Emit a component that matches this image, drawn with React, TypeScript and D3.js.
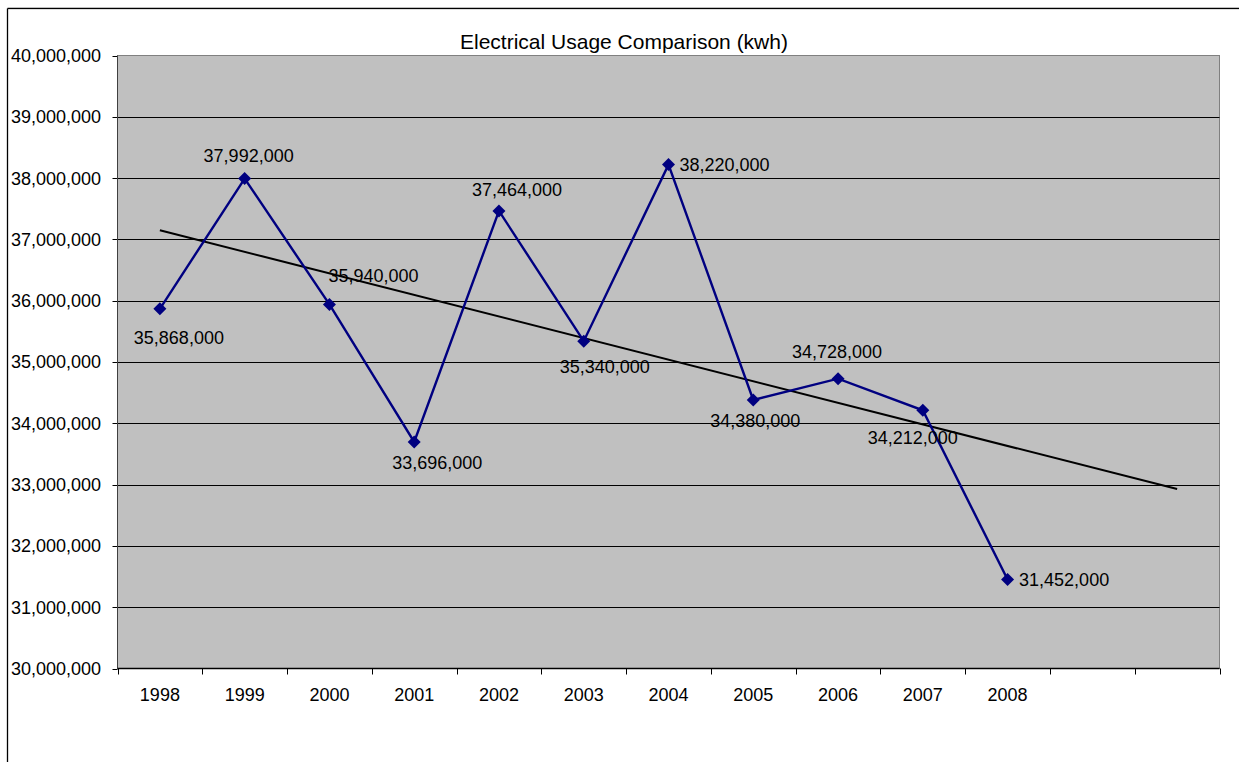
import React from 'react';
import * as d3 from 'd3';

const title = 'Electrical Usage Comparison (kwh)';
const years = ['1998', '1999', '2000', '2001', '2002', '2003', '2004', '2005', '2006', '2007', '2008', '', ''];
const usage = [35868000, 37992000, 35940000, 33696000, 37464000, 35340000, 38220000, 34380000, 34728000, 34212000, 31452000];
const yTicks = [30000000, 31000000, 32000000, 33000000, 34000000, 35000000, 36000000, 37000000, 38000000, 39000000, 40000000];

// label placement (offset from point, anchor) – layout, not data
const labelLayout: { dx: number; dy: number; anchor: string }[] = [
  { dx: 19, dy: 29, anchor: 'middle' },
  { dx: 4, dy: -23, anchor: 'middle' },
  { dx: 44, dy: -29, anchor: 'middle' },
  { dx: 23, dy: 21, anchor: 'middle' },
  { dx: 18, dy: -21, anchor: 'middle' },
  { dx: 21, dy: 25, anchor: 'middle' },
  { dx: 11, dy: 0, anchor: 'start' },
  { dx: 2, dy: 21, anchor: 'middle' },
  { dx: -1, dy: -27, anchor: 'middle' },
  { dx: -10, dy: 27, anchor: 'middle' },
  { dx: 11.5, dy: 0, anchor: 'start' },
];

const W = 1239;
const H = 762;
const L = 117.5, R = 1219.5, T = 55.5, B = 668.5;
const FONT = '"Liberation Sans", Arial, sans-serif';

export default function App() {
  const x = d3.scaleBand<number>().domain(d3.range(years.length)).range([L, R]).paddingInner(0).paddingOuter(0);
  const cx = (i: number) => (x(i) as number) + x.bandwidth() / 2;
  const y = d3.scaleLinear().domain([30000000, 40000000]).range([B, T]);
  const fmt = d3.format(',');

  const line = d3.line<number>().x((_, i) => cx(i)).y((d) => y(d));

  // linear trend line fitted to the series, extended over the empty categories
  const xs = usage.map((_, i) => i + 1);
  const mx = d3.mean(xs) as number;
  const my = d3.mean(usage) as number;
  const sxy = d3.sum(xs, (xi, i) => (xi - mx) * (usage[i] - my));
  const sxx = d3.sum(xs, (xi) => (xi - mx) * (xi - mx));
  const slope = sxy / sxx;
  const icpt = my - slope * mx;
  const trendStart = 0;
  const trendEnd = years.length - 1;
  const trend = (i: number) => icpt + slope * (i + 1);

  const boundaries = d3.range(years.length + 1).map((i) => (i < years.length ? (x(i) as number) : R));

  return (
    <svg width={W} height={H} style={{ position: 'absolute', left: 0, top: 0 }} fontFamily={FONT}>
      <rect x={0} y={0} width={W} height={H} fill="#fff" />
      {/* outer chart frame */}
      <line x1={7.5} y1={8.5} x2={W} y2={8.5} stroke="#000" strokeWidth={1.3} />
      <line x1={8} y1={9.5} x2={W} y2={9.5} stroke="#ddd" strokeWidth={1} />
      <line x1={7.5} y1={8.5} x2={7.5} y2={H} stroke="#000" strokeWidth={1.3} />

      <text x={624} y={49} textAnchor="middle" fontSize={21} fill="#000">{title}</text>

      {/* plot area */}
      <rect x={L} y={T} width={R - L} height={B - T} fill="#C0C0C0" stroke="#808080" strokeWidth={1} />
      {yTicks.map((t) => (
        <g key={t}>
          {t !== 30000000 && t !== 40000000 && (
            <line x1={L} x2={R} y1={Math.round(y(t)) + 0.5} y2={Math.round(y(t)) + 0.5} stroke="#000" strokeWidth={1} />
          )}
          <line x1={L - 5} x2={L} y1={Math.round(y(t)) + 0.5} y2={Math.round(y(t)) + 0.5} stroke="#000" strokeWidth={1} />
          <text x={101} y={y(t)} dy="0.36em" textAnchor="end" fontSize={18} fill="#000">{fmt(t)}</text>
        </g>
      ))}
      <line x1={L} x2={L} y1={T} y2={B} stroke="#404040" strokeWidth={1} />
      <line x1={L} x2={R} y1={B} y2={B} stroke="#000" strokeWidth={1.5} />
      {boundaries.map((bx, i) => (
        <line key={i} x1={Math.round(bx) + 0.5} x2={Math.round(bx) + 0.5} y1={B} y2={B + 6} stroke="#000" strokeWidth={1} />
      ))}
      {years.map((yr, i) => (
        <text key={i} x={cx(i)} y={701} textAnchor="middle" fontSize={18} fill="#000">{yr}</text>
      ))}

      {/* trend line */}
      <line x1={cx(trendStart)} y1={y(trend(trendStart))} x2={cx(trendEnd)} y2={y(trend(trendEnd))} stroke="#000" strokeWidth={2} />

      {/* series */}
      <path d={line(usage) as string} fill="none" stroke="#000080" strokeWidth={2.4} />
      {usage.map((v, i) => {
        const px = cx(i), py = y(v), s = 6.5;
        return (
          <path key={i} d={`M${px},${py - s}L${px + s},${py}L${px},${py + s}L${px - s},${py}Z`} fill="#000080" />
        );
      })}
      {usage.map((v, i) => {
        const lay = labelLayout[i];
        return (
          <text key={i} x={cx(i) + lay.dx} y={y(v) + lay.dy} dy="0.36em" textAnchor={lay.anchor} fontSize={18} fill="#000">
            {fmt(v)}
          </text>
        );
      })}
    </svg>
  );
}
